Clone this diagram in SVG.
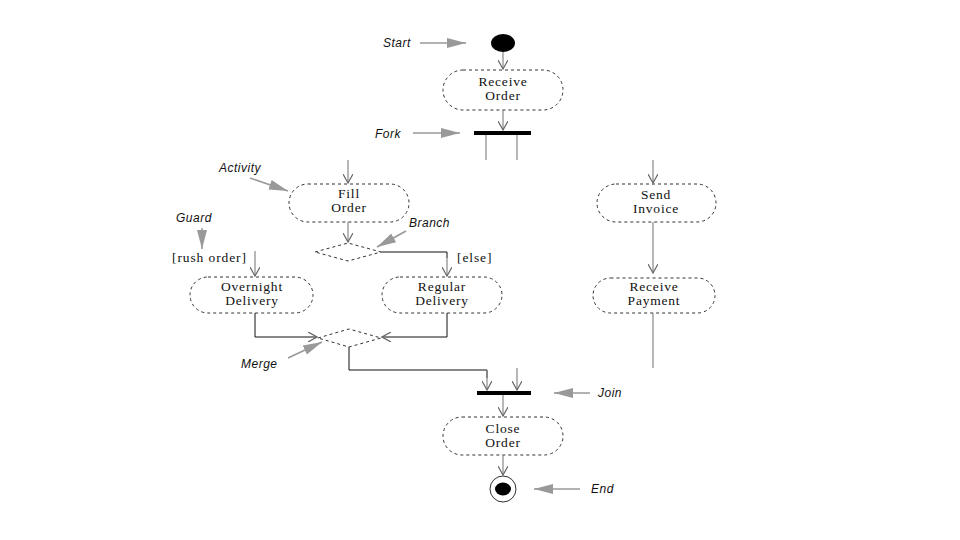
<svg xmlns="http://www.w3.org/2000/svg" width="960" height="540" viewBox="0 0 960 540">
<defs>
<marker id="v" viewBox="0 0 10 10" refX="9" refY="5" markerWidth="10" markerHeight="10" markerUnits="userSpaceOnUse" orient="auto">
<path d="M0,0 L9,5 L0,10" fill="none" stroke="#666" stroke-width="1.2"/>
</marker>
<marker id="g" viewBox="0 0 20 12" refX="19" refY="6" markerWidth="20" markerHeight="12" markerUnits="userSpaceOnUse" orient="auto">
<path d="M0,1 L19,6 L0,11 Z" fill="#999" stroke="none"/>
</marker>
</defs>
<style>
.node{fill:#fff;stroke:#333;stroke-width:1;stroke-dasharray:3,3}
.nt{font-family:"Liberation Serif",serif;font-size:13.5px;letter-spacing:0.8px;fill:#111;text-anchor:middle}
.lb{font-family:"Liberation Sans",sans-serif;font-style:italic;font-size:12px;letter-spacing:0.5px;fill:#111}
.gd{font-family:"Liberation Serif",serif;font-size:13.5px;letter-spacing:0.9px;fill:#111}
.c{fill:none;stroke:#888;stroke-width:1.2}
.k{fill:none;stroke:#111;stroke-width:1}
.ga{fill:none;stroke:#999;stroke-width:1.5}
.bar{fill:#000}
.dia{fill:#fff;stroke:#333;stroke-width:1;stroke-dasharray:3,3}
</style>
<g id="start"><ellipse cx="503" cy="43" rx="12" ry="9" fill="#000"/></g>
<g id="receive-order"><rect class="node" x="443" y="70" width="120" height="40" rx="20"/><text class="nt" x="503" y="86">Receive</text><text class="nt" x="503" y="100">Order</text></g>
<g id="fork"><rect class="bar" x="474" y="131" width="57" height="4"/></g>
<g id="fill-order"><rect class="node" x="289" y="184" width="120" height="38" rx="19"/><text class="nt" x="349" y="198">Fill</text><text class="nt" x="349" y="212">Order</text></g>
<g id="send-invoice"><rect class="node" x="597" y="184" width="119" height="38" rx="19"/><text class="nt" x="656" y="199">Send</text><text class="nt" x="656" y="213">Invoice</text></g>
<g id="branch"><polygon class="dia" points="315,252 348,243 381,252 348,261"/></g>
<g id="overnight"><rect class="node" x="190" y="277" width="123" height="36" rx="18"/><text class="nt" x="252" y="291">Overnight</text><text class="nt" x="252" y="305">Delivery</text></g>
<g id="regular"><rect class="node" x="382" y="277" width="120" height="36" rx="18"/><text class="nt" x="442" y="291">Regular</text><text class="nt" x="442" y="305">Delivery</text></g>
<g id="receive-payment"><rect class="node" x="593" y="278" width="122" height="35" rx="17.5"/><text class="nt" x="654" y="291">Receive</text><text class="nt" x="654" y="305">Payment</text></g>
<g id="merge"><polygon class="dia" points="318,338 349,329 381,338 349,347"/></g>
<g id="join"><rect class="bar" x="477" y="391" width="54" height="4"/></g>
<g id="close-order"><rect class="node" x="443" y="417" width="120" height="38" rx="19"/><text class="nt" x="503" y="433">Close</text><text class="nt" x="503" y="447">Order</text></g>
<g id="end"><circle cx="503" cy="489" r="13" fill="#fff" stroke="#333" stroke-width="1"/><ellipse cx="503" cy="489" rx="8" ry="6.5" fill="#000"/></g>
<g id="connectors">
<line class="c" x1="503" y1="52" x2="503" y2="69" marker-end="url(#v)"/>
<line class="c" x1="503" y1="110" x2="503" y2="130" marker-end="url(#v)"/>
<line class="c" x1="486" y1="135" x2="486" y2="160"/>
<line class="c" x1="517" y1="135" x2="517" y2="160"/>
<line class="c" x1="348" y1="160" x2="348" y2="183" marker-end="url(#v)"/>
<line class="c" x1="653" y1="160" x2="653" y2="183" marker-end="url(#v)"/>
<line class="c" x1="348" y1="222" x2="348" y2="242" marker-end="url(#v)"/>
<line class="c" x1="653" y1="222" x2="653" y2="273" marker-end="url(#v)"/>
<line class="c" x1="653" y1="313" x2="653" y2="368"/>
<polyline class="k" points="381,252 447,252 447,258"/>
<line class="c" x1="447" y1="256" x2="447" y2="276" marker-end="url(#v)"/>
<line class="c" x1="255" y1="251" x2="255" y2="276" marker-end="url(#v)"/>
<polyline class="k" points="255,313 255,337 317,337" marker-end="url(#v)"/>
<polyline class="k" points="447,313 447,337 382,337" marker-end="url(#v)"/>
<polyline class="k" points="349,347 349,370 487,370 487,378"/>
<line class="c" x1="487" y1="370" x2="487" y2="390" marker-end="url(#v)"/>
<line class="c" x1="517" y1="368" x2="517" y2="390" marker-end="url(#v)"/>
<line class="c" x1="503" y1="395" x2="503" y2="416" marker-end="url(#v)"/>
<line class="c" x1="503" y1="455" x2="503" y2="475" marker-end="url(#v)"/>
</g>
<g id="annotations">
<text class="lb" x="383" y="47">Start</text>
<line class="ga" x1="420" y1="43" x2="466" y2="43" marker-end="url(#g)"/>
<text class="lb" x="375" y="138">Fork</text>
<line class="ga" x1="413" y1="133" x2="460" y2="133" marker-end="url(#g)"/>
<text class="lb" x="219" y="172">Activity</text>
<line class="ga" x1="250" y1="178" x2="288" y2="191" marker-end="url(#g)"/>
<text class="lb" x="176" y="222">Guard</text>
<line class="ga" x1="202" y1="228" x2="202" y2="249" marker-end="url(#g)"/>
<text class="lb" x="409" y="227">Branch</text>
<line class="ga" x1="406" y1="231" x2="377" y2="247" marker-end="url(#g)"/>
<text class="gd" x="172" y="262">[rush order]</text>
<text class="gd" x="457" y="262">[else]</text>
<text class="lb" x="241" y="368">Merge</text>
<line class="ga" x1="288" y1="358" x2="322" y2="342" marker-end="url(#g)"/>
<text class="lb" x="598" y="397">Join</text>
<line class="ga" x1="590" y1="393" x2="554" y2="393" marker-end="url(#g)"/>
<text class="lb" x="591" y="493">End</text>
<line class="ga" x1="580" y1="489" x2="534" y2="489" marker-end="url(#g)"/>
</g>
</svg>
